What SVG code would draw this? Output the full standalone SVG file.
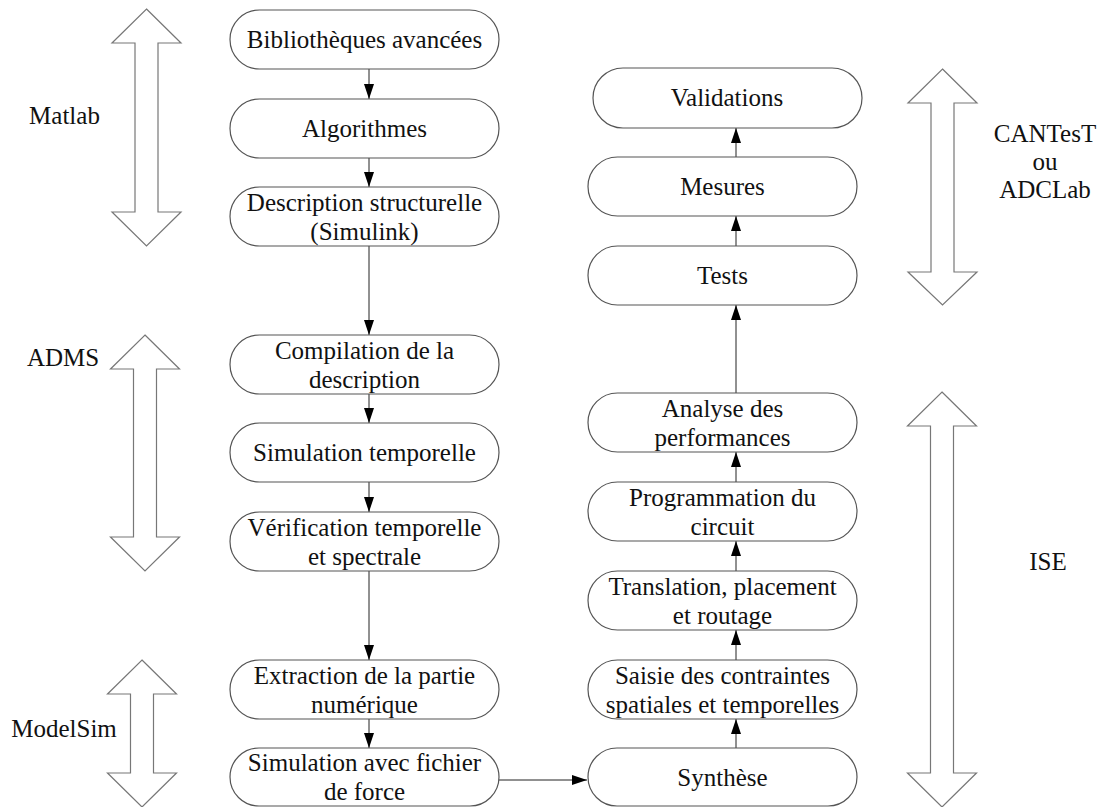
<svg xmlns="http://www.w3.org/2000/svg" width="1105" height="807" viewBox="0 0 1105 807">
<style>
  .node rect { fill: #ffffff; stroke: #555555; stroke-width: 1.2; }
  .node text, .label { font-family: "Liberation Serif", "Times New Roman", serif; font-size: 25px; fill: #111111; text-anchor: middle; }
  .big { fill: #ffffff; stroke: #777777; stroke-width: 1.2; }
  .conn line { stroke: #222222; stroke-width: 1; marker-end: url(#ah); }
</style>
<defs>
  <marker id="ah" markerUnits="userSpaceOnUse" markerWidth="16" markerHeight="10" refX="15" refY="5" orient="auto">
    <path d="M0,0 L15,5 L0,10 z" fill="#000000"/>
  </marker>
</defs>
<rect x="0" y="0" width="1105" height="807" fill="#ffffff"/>

<g id="tools">
  <polygon class="big" points="146.5,9 181,43 158,43 158,212 181,212 146.5,246 112,212 135,212 135,43 112,43"/>
  <polygon class="big" points="145,335 179.5,369 156.5,369 156.5,537 179.5,537 145,571 110.5,537 133.5,537 133.5,369 110.5,369"/>
  <polygon class="big" points="142,660 176.5,694 153.5,694 153.5,773 176.5,773 142,807 107.5,773 130.5,773 130.5,694 107.5,694"/>
  <polygon class="big" points="942.5,69 977,103 954,103 954,272 977,272 942.5,305 908,272 931,272 931,103 908,103"/>
  <polygon class="big" points="942,392 976.5,426 953.5,426 953.5,773 976.5,773 942,807 907.5,773 930.5,773 930.5,426 907.5,426"/>
  <text class="label" x="64.5" y="124">Matlab</text>
  <text class="label" x="63" y="366">ADMS</text>
  <text class="label" x="64" y="737">ModelSim</text>
  <text class="label" x="1045" y="142">CANTesT</text>
  <text class="label" x="1045" y="170">ou</text>
  <text class="label" x="1045" y="198">ADCLab</text>
  <text class="label" x="1048" y="570">ISE</text>
</g>

<g id="connectors" class="conn">
  <line x1="369" y1="69" x2="369" y2="99"/>
  <line x1="369" y1="158" x2="369" y2="187"/>
  <line x1="369" y1="246" x2="369" y2="335"/>
  <line x1="369" y1="394" x2="369" y2="423"/>
  <line x1="369" y1="482" x2="369" y2="512"/>
  <line x1="369" y1="571" x2="369" y2="660"/>
  <line x1="369" y1="719" x2="369" y2="748"/>
  <line x1="499" y1="780" x2="587" y2="780"/>
  <line x1="736" y1="748" x2="736" y2="719"/>
  <line x1="736" y1="660" x2="736" y2="630"/>
  <line x1="736" y1="571" x2="736" y2="541"/>
  <line x1="736" y1="482" x2="736" y2="452"/>
  <line x1="736" y1="393" x2="736" y2="305"/>
  <line x1="736" y1="246" x2="736" y2="216"/>
  <line x1="736" y1="157" x2="736" y2="128"/>
</g>

<g id="n-bibliotheques" class="node">
  <rect x="230" y="10" width="269" height="59" rx="29.5"/>
  <text x="364.5" y="48">Bibliothèques avancées</text>
</g>
<g id="n-algorithmes" class="node">
  <rect x="230" y="99" width="269" height="59" rx="29.5"/>
  <text x="364.5" y="137">Algorithmes</text>
</g>
<g id="n-description" class="node">
  <rect x="230" y="187" width="269" height="59" rx="29.5"/>
  <text x="364.5" y="210.5">Description structurelle</text>
  <text x="364.5" y="239.5">(Simulink)</text>
</g>
<g id="n-compilation" class="node">
  <rect x="230" y="335" width="269" height="59" rx="29.5"/>
  <text x="364.5" y="358.5">Compilation de la</text>
  <text x="364.5" y="387.5">description</text>
</g>
<g id="n-simtemp" class="node">
  <rect x="230" y="423" width="269" height="59" rx="29.5"/>
  <text x="364.5" y="461">Simulation temporelle</text>
</g>
<g id="n-verification" class="node">
  <rect x="230" y="512" width="269" height="59" rx="29.5"/>
  <text x="364.5" y="535.5">Vérification temporelle</text>
  <text x="364.5" y="564.5">et spectrale</text>
</g>
<g id="n-extraction" class="node">
  <rect x="230" y="660" width="269" height="59" rx="29.5"/>
  <text x="364.5" y="683.5">Extraction de la partie</text>
  <text x="364.5" y="712.5">numérique</text>
</g>
<g id="n-simforce" class="node">
  <rect x="230" y="748" width="269" height="58" rx="29"/>
  <text x="364.5" y="771">Simulation avec fichier</text>
  <text x="364.5" y="800">de force</text>
</g>

<g id="n-validations" class="node">
  <rect x="593" y="68" width="269" height="60" rx="30"/>
  <text x="727" y="106">Validations</text>
</g>
<g id="n-mesures" class="node">
  <rect x="588" y="157" width="269" height="59" rx="29.5"/>
  <text x="722.5" y="195">Mesures</text>
</g>
<g id="n-tests" class="node">
  <rect x="588" y="246" width="269" height="59" rx="29.5"/>
  <text x="722.5" y="284">Tests</text>
</g>
<g id="n-analyse" class="node">
  <rect x="588" y="393" width="269" height="59" rx="29.5"/>
  <text x="722.5" y="416.5">Analyse des</text>
  <text x="722.5" y="445.5">performances</text>
</g>
<g id="n-programmation" class="node">
  <rect x="588" y="482" width="269" height="59" rx="29.5"/>
  <text x="722.5" y="505.5">Programmation du</text>
  <text x="722.5" y="534.5">circuit</text>
</g>
<g id="n-translation" class="node">
  <rect x="588" y="571" width="269" height="59" rx="29.5"/>
  <text x="722.5" y="594.5">Translation, placement</text>
  <text x="722.5" y="623.5">et routage</text>
</g>
<g id="n-saisie" class="node">
  <rect x="588" y="660" width="269" height="59" rx="29.5"/>
  <text x="722.5" y="683.5">Saisie des contraintes</text>
  <text x="722.5" y="712.5">spatiales et temporelles</text>
</g>
<g id="n-synthese" class="node">
  <rect x="588" y="748" width="269" height="58" rx="29"/>
  <text x="722.5" y="785.5">Synthèse</text>
</g>
</svg>
